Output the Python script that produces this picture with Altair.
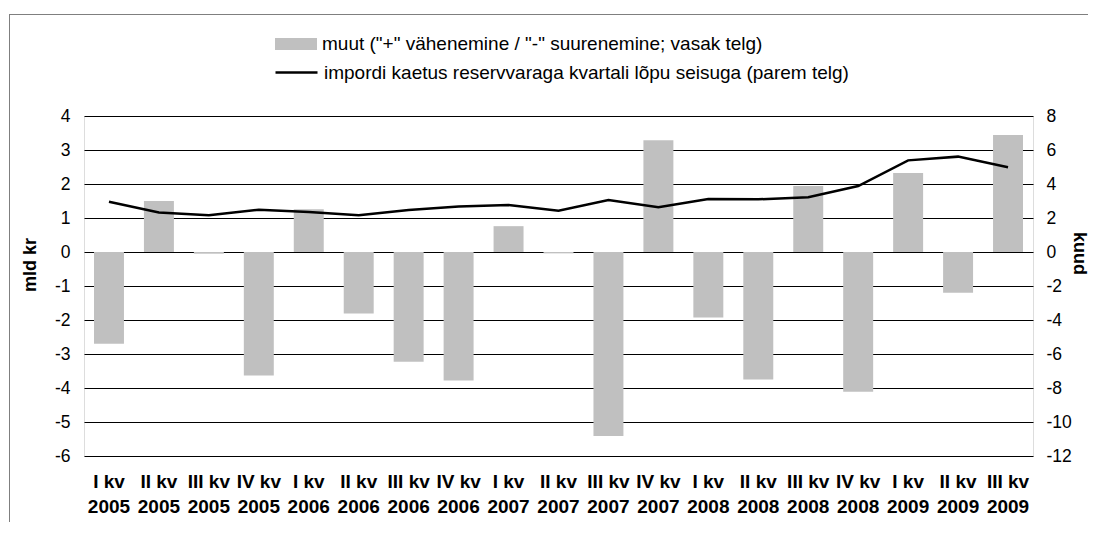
import altair as alt
import pandas as pd

quarters = ["I kv", "II kv", "III kv", "IV kv",
            "I kv", "II kv", "III kv", "IV kv",
            "I kv", "II kv", "III kv", "IV kv",
            "I kv", "II kv", "III kv", "IV kv",
            "I kv", "II kv", "III kv"]
years = ["2005", "2005", "2005", "2005",
         "2006", "2006", "2006", "2006",
         "2007", "2007", "2007", "2007",
         "2008", "2008", "2008", "2008",
         "2009", "2009", "2009"]
# left axis, mld kr
muut = [-2.70, 1.50, -0.05, -3.63, 1.26, -1.81, -3.23, -3.78, 0.76, -0.04,
        -5.41, 3.29, -1.93, -3.75, 1.94, -4.11, 2.32, -1.20, 3.44]
# right axis, kuud
kaetus = [2.96, 2.33, 2.16, 2.49, 2.35, 2.16, 2.47, 2.67, 2.76, 2.43,
          3.06, 2.63, 3.12, 3.10, 3.22, 3.88, 5.39, 5.61, 4.98]

bar_label = 'muut ("+" vähenemine / "-" suurenemine; vasak telg)'
line_label = "impordi kaetus reservvaraga kvartali lõpu seisuga (parem telg)"

left_ticks = [-6, -5, -4, -3, -2, -1, 0, 1, 2, 3, 4]
right_ticks = [-12, -10, -8, -6, -4, -2, 0, 2, 4, 6, 8]

FONT = "Liberation Sans"

df = pd.DataFrame({
    "kv": [q + "|" + y for q, y in zip(quarters, years)],
    "muut": muut,
    "kaetus": kaetus,
    "s1": [bar_label] * len(muut),
    "s2": [line_label] * len(muut),
})
order = list(df["kv"])

x_enc = alt.X(
    "kv:N", sort=order,
    scale=alt.Scale(paddingInner=0.4, paddingOuter=0.2),
    axis=alt.Axis(title=None, labelExpr="split(datum.label, '|')", labelAngle=0,
                  labelFontSize=19, labelFontWeight="bold", labelPadding=16,
                  labelLineHeight=25, labelBaseline="top", labelColor="black",
                  domain=False, ticks=False, grid=False, labelFont=FONT),
)

bars = alt.Chart(df).mark_bar(opacity=1).encode(
    x=x_enc,
    y=alt.Y("muut:Q",
            scale=alt.Scale(domain=[-6, 4], nice=False),
            axis=alt.Axis(orient="left", values=left_ticks,
                          labelExpr="datum.value + ''",
                          grid=True, gridColor="black", gridWidth=1,
                          domain=False, ticks=False, labelFontSize=17.5,
                          labelColor="black", labelPadding=14, labelFont=FONT,
                          title="mld kr", titleFontSize=18, titleFontWeight="bold",
                          titleColor="black", titleAngle=270, titleX=-53.5, titleY=148.5,
                          titleAlign="center", titleBaseline="middle", titleFont=FONT)),
    fill=alt.Fill("s1:N", scale=alt.Scale(range=["#c0c0c0"]),
                  legend=alt.Legend(title=None, orient="none", legendX=191, legendY=-93,
                                    symbolType="M-1,-0.286L1,-0.286L1,0.286L-1,0.286Z",
                                    symbolSize=1764, symbolStrokeWidth=0, symbolOpacity=1,
                                    labelFontSize=19, labelOffset=5, labelLimit=1000,
                                    labelColor="black", labelFont=FONT, padding=0)),
)

line = alt.Chart(df).mark_line(strokeWidth=2.5).encode(
    x=x_enc,
    y=alt.Y("kaetus:Q",
            scale=alt.Scale(domain=[-12, 8], nice=False),
            axis=alt.Axis(orient="right", values=right_ticks,
                          labelExpr="datum.value + ''",
                          grid=False, domain=False, ticks=False, labelFontSize=17.5,
                          labelColor="black", labelPadding=13, labelFont=FONT,
                          title="kuud", titleFontSize=18, titleFontWeight="bold",
                          titleColor="black", titleAngle=90, titleX=45, titleY=137,
                          titleAlign="center", titleBaseline="middle", titleFont=FONT)),
    stroke=alt.Stroke("s2:N", scale=alt.Scale(range=["black"]),
                      legend=alt.Legend(title=None, orient="none", legendX=190, legendY=-66,
                                        symbolType="stroke", symbolSize=1764,
                                        symbolStrokeWidth=2.5,
                                        labelFontSize=19, labelOffset=5, labelLimit=1000,
                                        labelColor="black", labelFont=FONT, padding=0)),
)

frame_df = pd.DataFrame({"f": [0]})
frame_top = alt.Chart(frame_df).mark_rule(color="#7f7f7f", strokeWidth=1).encode(
    x=alt.value(-75), x2=alt.value(1030), y=alt.value(-101.5))
frame_left = alt.Chart(frame_df).mark_rule(color="#7f7f7f", strokeWidth=1).encode(
    x=alt.value(-74.5), y=alt.value(-102), y2=alt.value(430))

chart = alt.layer(bars, line, frame_top, frame_left).resolve_scale(
    y="independent"
).properties(
    width=949, height=340,
    autosize=alt.AutoSizeParams(type="none"),
    padding={"left": 76, "top": 108, "right": 55, "bottom": 66},
).configure_view(stroke="transparent").configure(font=FONT)

chart.save("out.html", embed_options={"renderer": "svg", "actions": False})
